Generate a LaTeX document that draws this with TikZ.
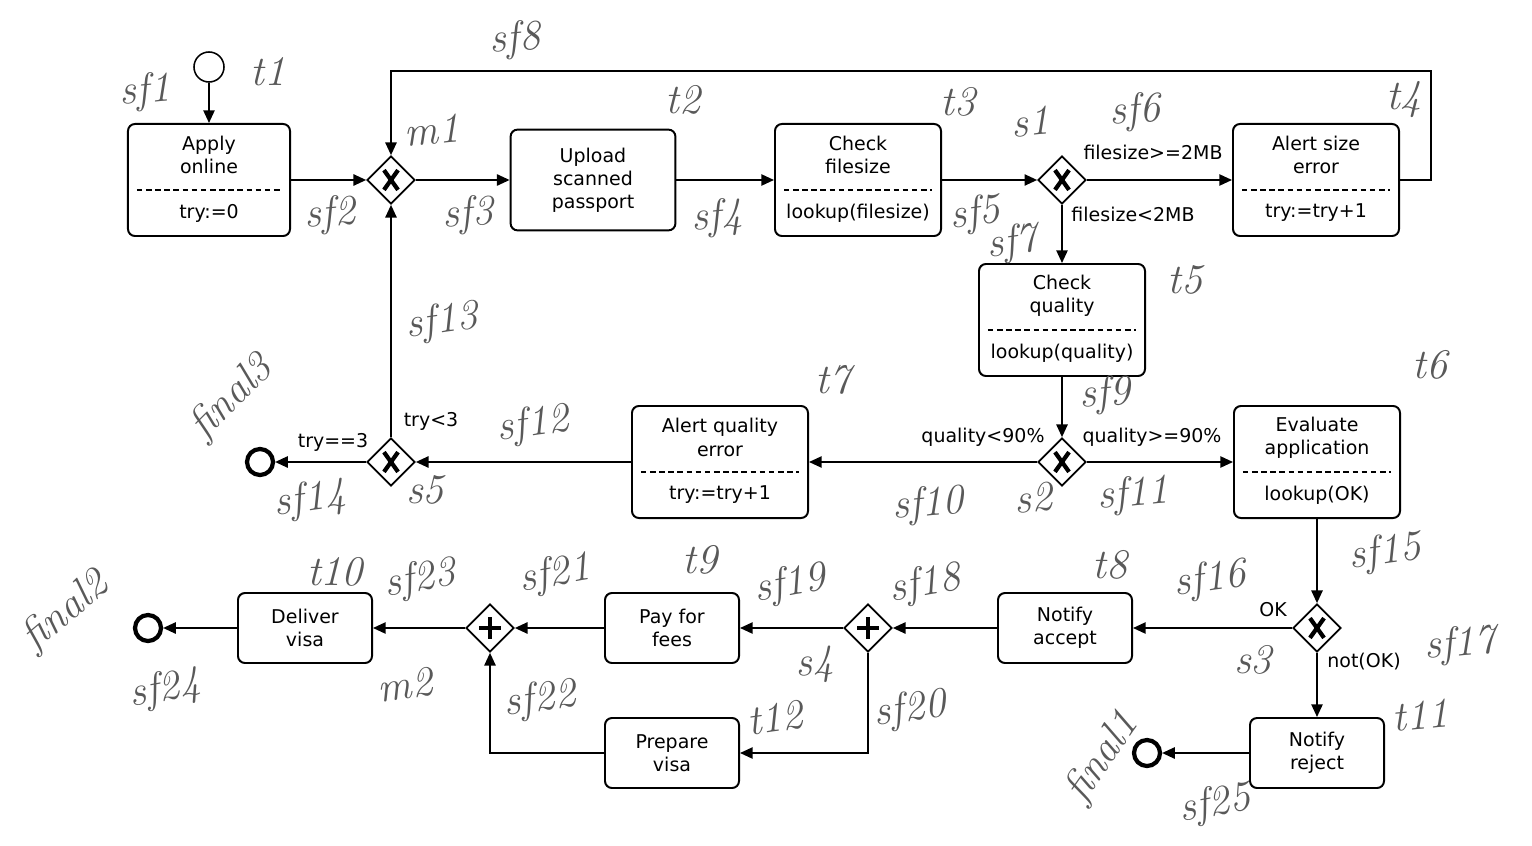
\documentclass[tikz,border=0pt]{standalone}
\usepackage{fontspec}
\setsansfont{DejaVu Sans}
\usetikzlibrary{shapes.geometric, arrows.meta}

\begin{document}
\begin{tikzpicture}[
    x=0.025cm, y=-0.025cm,
    font=\sffamily\fontsize{13.5}{16.4}\selectfont,
    task/.style ={
        draw,
        rounded corners=5pt,
        line width=1.4pt,
        minimum width=4.15cm,
        minimum height=2.8cm,
        align=center,
        inner sep=0pt
    },
    small/.style ={task, minimum width=3.35cm, minimum height=1.75cm},
    divider/.style ={line width=1.5pt, dash pattern=on 4pt off 2.5pt},
    gate/.style ={
        diamond,
        draw,
        fill=white,
        line width=1.2pt,
        minimum size=1.2cm,
        inner sep=0pt
    },
    xor/.style ={gate, path picture={
        \draw[line width=3pt]
            ([shift={(-5pt,-7pt)}]path picture bounding box.center) -- ([shift={(5pt,7pt)}]path picture bounding box.center)
            ([shift={(-5pt,7pt)}]path picture bounding box.center) -- ([shift={(5pt,-7pt)}]path picture bounding box.center);}},
    andg/.style ={gate, path picture={
        \draw[line width=3.2pt]
            ([xshift=-7.5pt]path picture bounding box.center) -- ([xshift=7.5pt]path picture bounding box.center)
            ([yshift=-7.5pt]path picture bounding box.center) -- ([yshift=7.5pt]path picture bounding box.center);}},
    startev/.style ={circle, draw, line width=1.1pt, minimum size=0.75cm, inner sep=0pt},
    endev/.style ={circle, draw, line width=3pt, minimum size=0.65cm, inner sep=0pt},
    flow/.style ={-{Triangle[length=9pt,width=8pt]}, line width=1.2pt},
    cond/.style ={inner sep=1pt},
    hand/.style ={font=\rmfamily\itshape\fontsize{30}{30}\selectfont, text=black!65}
    ]
    \useasboundingbox (0,0) rectangle (1532,846);

    % events
    \node[startev] (start) at (209,67) {};
    \foreach \n/ \pos in {{end3/(260,462)}, {end2/(148,628)}, {end1/(1147,753)}}
        \node[endev] (\n) at \pos {};

    % gateways
    \foreach \n/ \pos in {{m1/(391,180)}, {s1/(1062,180)}, {s2/(1062,462)}, {s5/(391,462)}, {s3/(1317,628)}}
        \node[xor] (\n) at \pos {};
    \foreach \n/ \pos in {{s4/(868,628)}, {m2/(490,628)}}
        \node[andg] (\n) at \pos {};

    % tasks with a data part
    \node[task, minimum width=4.05cm] (t1) at (209,180) {};
    \node[task] (t3) at (858,180) {};
    \node[task] (t4) at (1316,180) {};
    \node[task] (t5) at (1062,320) {};
    \node[task, minimum width=4.4cm] (t7) at (720,462) {};
    \node[task] (t6) at (1317,462) {};
    \foreach \n/ \up/ \low in {t1/{Apply\\online}/{try:=0}, t3/{Check\\filesize}/{lookup(filesize)},
                               t4/{Alert size\\error}/{try:=try+1}, t5/{Check\\quality}/{lookup(quality)},
                               t7/{Alert quality\\error}/{try:=try+1}, t6/{Evaluate\\application}/{lookup(OK)}}{
        \node[align=center, inner sep=0pt] (\n-up) at ([yshift=17.5pt]\n.center) {\up};
        \node[inner sep=0pt] (\n-low) at ([yshift=-23.5pt]\n.center) {\low};
        \draw[divider] ([xshift=7pt, yshift=-7pt]\n.west) -- ([xshift=-7pt, yshift=-7pt]\n.east);
    }

    % plain tasks
    \node[task, minimum width=4.12cm, minimum height=2.52cm] (t2) at (593,180) {Upload\\scanned\\passport};
    \foreach \n/ \pos/ \txt in {{t8/(1065,628)/{Notify\\accept}}, {t11/(1317,753)/{Notify\\reject}},
                                {t9/(672,628)/{Pay for\\fees}}, {t12/(672,753)/{Prepare\\visa}},
                                {t10/(305,628)/{Deliver\\visa}}}
        \node[small] (\n) at \pos {\txt};

    % sequence flows
    \coordinate (loop) at (1431,71);
    \foreach \src/ \dst in {start/t1, t1/m1, m1/t2, t2/t3, t3/s1, s1/t4, s1/t5, t5/s2, s2/t7, s2/t6,
                            t7/s5, s5/end3, s5/m1, t6/s3, s3/t8, s3/t11, t11/end1, t8/s4, s4/t9,
                            t9/m2, m2/t10, t10/end2}
        \draw[flow] (\src) -- (\dst);
    \draw[flow] (t4.east) -| (loop) -| (m1.north);
    \draw[flow] (s4.south) |- (t12.east);
    \draw[flow] (t12.west) -| (m2.south);

    % conditions
    \node[cond] (c1) at (1153,152) {filesize>=2MB};
    \node[cond] (c2) at (1133,214) {filesize<2MB};
    \node[cond] (c3) at (983,437) {quality<90\%};
    \node[cond] (c4) at (1152,437) {quality>=90\%};
    \node[cond] (c5) at (333,442) {try==3};
    \node[cond] (c6) at (431,421) {try<3};
    \node[cond] (c7) at (1273,610) {OK};
    \node[cond] (c8) at (1364,662) {not(OK)};

    % pencil notes
    \foreach \n/ \pos/ \rot in {{sf1/(145,92)/5}, {t1/(268,72)/0}, {sf8/(515,40)/5}, {m1/(432,130)/5},
                                {sf2/(330,215)/5}, {sf3/(468,215)/5}, {t2/(683,100)/0}, {sf4/(717,218)/5},
                                {t3/(958,102)/0}, {sf5/(975,215)/8}, {s1/(1030,122)/5}, {sf6/(1135,112)/5},
                                {t4/(1404,100)/0}, {sf7/(1012,244)/8}, {t5/(1185,280)/0}, {sf13/(442,322)/8},
                                {sf12/(533,425)/8}, {t7/(833,380)/0}, {sf9/(1105,395)/5}, {t6/(1430,365)/0},
                                {sf14/(310,500)/8}, {s5/(425,490)/0}, {sf10/(928,505)/5}, {s2/(1033,498)/5},
                                {sf11/(1133,495)/5}, {sf15/(1385,553)/8}, {t10/(335,572)/0}, {sf23/(420,580)/10},
                                {sf21/(555,575)/10}, {t9/(700,560)/0}, {sf19/(790,585)/10}, {sf18/(925,585)/10},
                                {t8/(1110,565)/0}, {sf16/(1210,580)/8}, {sf17/(1460,645)/5}, {s3/(1253,660)/0},
                                {m2/(405,685)/8}, {sf24/(165,690)/10}, {sf22/(540,700)/8}, {s4/(815,665)/5},
                                {t12/(775,718)/8}, {sf20/(910,710)/8}, {sf25/(1215,805)/10}, {t11/(1420,715)/5}}
        \node[hand, rotate=\rot] (note-\n) at \pos {\n};
    \foreach \n/ \pos/ \rot in {{final3/(232,398)/45}, {final2/(66,612)/40}, {final1/(1103,758)/55}}
        \node[hand, rotate=\rot] (note-\n) at \pos {\n};

\end{tikzpicture}
\end{document}
